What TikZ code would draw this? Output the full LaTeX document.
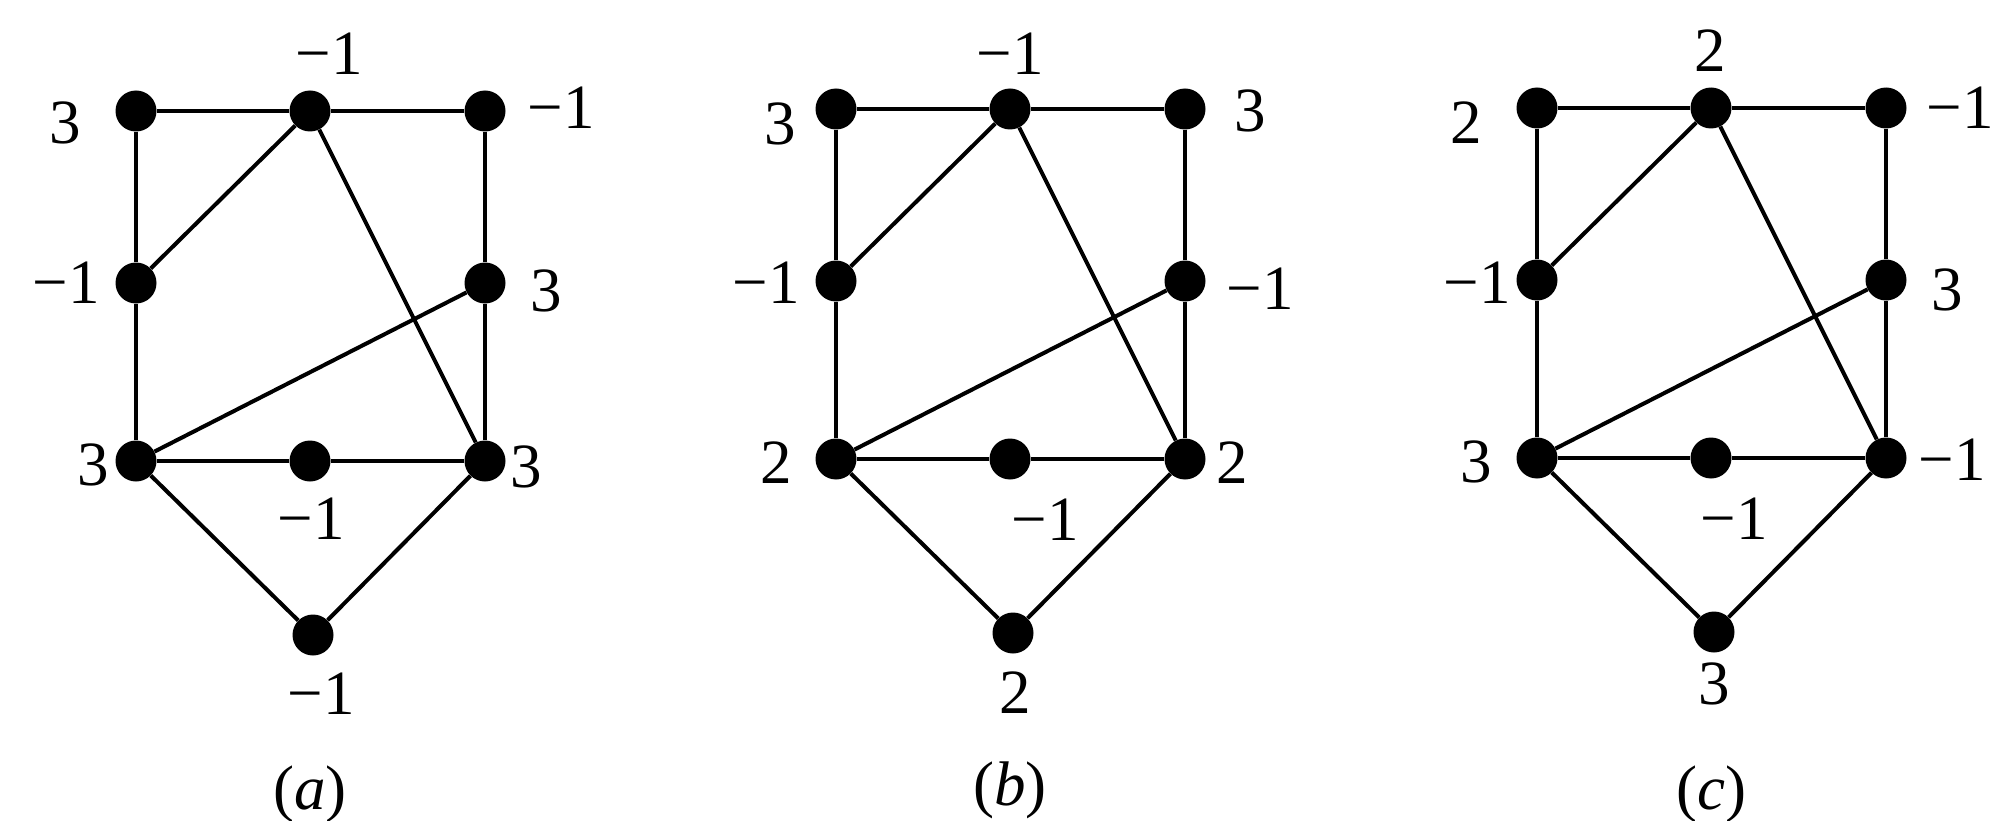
\documentclass[tikz,border=0pt]{standalone}
\usepackage{fontspec}
\setmainfont{Liberation Serif}
\begin{document}
\begin{tikzpicture}[x=1pt,y=-1pt,
  vtx/.style={circle,fill=black,inner sep=0pt,minimum size=41pt},
  edge/.style={line width=4pt},
  lbl/.style={inner sep=0pt,font=\fontsize{63}{70}\selectfont}]
\useasboundingbox (0,0) rectangle (2000,821);
\newcommand\graphat[3]{%
  \begin{scope}[shift={(#2,#3)}]
    \node[vtx] (#1tl) at (136,111) {};
    \node[vtx] (#1tm) at (310,111) {};
    \node[vtx] (#1tr) at (485,111) {};
    \node[vtx] (#1ml) at (136,283) {};
    \node[vtx] (#1mr) at (485,283) {};
    \node[vtx] (#1bl) at (136,461) {};
    \node[vtx] (#1bm) at (310,461) {};
    \node[vtx] (#1br) at (485,461) {};
    \node[vtx] (#1bt) at (313,635) {};
  \end{scope}
  \draw[edge] (#1tl) -- (#1tm);
  \draw[edge] (#1tm) -- (#1tr);
  \draw[edge] (#1tl) -- (#1ml);
  \draw[edge] (#1ml) -- (#1bl);
  \draw[edge] (#1tm) -- (#1ml);
  \draw[edge] (#1tm) -- (#1br);
  \draw[edge] (#1tr) -- (#1mr);
  \draw[edge] (#1mr) -- (#1br);
  \draw[edge] (#1mr) -- (#1bl);
  \draw[edge] (#1bl) -- (#1bm);
  \draw[edge] (#1bm) -- (#1br);
  \draw[edge] (#1bl) -- (#1bt);
  \draw[edge] (#1br) -- (#1bt);
}
\graphat{a}{0}{0}
\graphat{b}{700}{-2}
\graphat{c}{1401}{-3}
% labels (a)
\node[lbl] (la1) at (329,54) {−1};
\node[lbl] (la2) at (65,123) {3};
\node[lbl] (la3) at (561,108) {−1};
\node[lbl] (la4) at (66,283) {−1};
\node[lbl] (la5) at (546,291) {3};
\node[lbl] (la6) at (93,465) {3};
\node[lbl] (la7) at (526,467) {3};
\node[lbl] (la8) at (311,519) {−1};
\node[lbl] (la9) at (321,694) {−1};
\node[lbl] (lat) at (310,794) {(\textit{a})};
% labels (b)
\node[lbl] (lb1) at (1010,54) {−1};
\node[lbl] (lb2) at (780,124) {3};
\node[lbl] (lb3) at (1250,111) {3};
\node[lbl] (lb4) at (766,283) {−1};
\node[lbl] (lb5) at (1260,289) {−1};
\node[lbl] (lb6) at (776,463) {2};
\node[lbl] (lb7) at (1232,463) {2};
\node[lbl] (lb8) at (1045,520) {−1};
\node[lbl] (lb9) at (1015,693) {2};
\node[lbl] (lbt) at (1010,790) {(\textit{b})};
% labels (c)
\node[lbl] (lc1) at (1710,51) {2};
\node[lbl] (lc2) at (1466,123) {2};
\node[lbl] (lc3) at (1960,108) {−1};
\node[lbl] (lc4) at (1477,283) {−1};
\node[lbl] (lc5) at (1947,290) {3};
\node[lbl] (lc6) at (1476,462) {3};
\node[lbl] (lc7) at (1952,460) {−1};
\node[lbl] (lc8) at (1734,519) {−1};
\node[lbl] (lc9) at (1714,684) {3};
\node[lbl] (lct) at (1711,794) {(\textit{c})};
\end{tikzpicture}
\end{document}
